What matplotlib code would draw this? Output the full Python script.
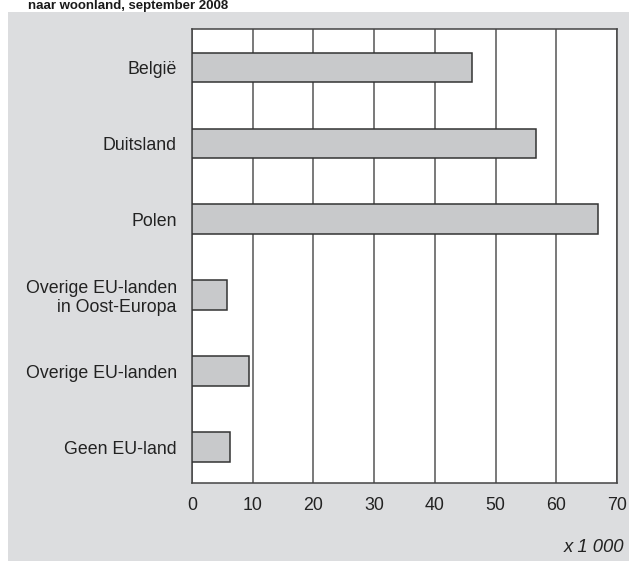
import matplotlib.pyplot as plt
from matplotlib.patches import Rectangle

plt.rcParams['font.family'] = ['Liberation Sans', 'DejaVu Sans']

landen = ['België', 'Duitsland', 'Polen', 'Overige EU-landen\nin Oost-Europa',
          'Overige EU-landen', 'Geen EU-land']
aantal = [46.1, 56.7, 66.9, 5.7, 9.4, 6.3]
xticks = [0, 10, 20, 30, 40, 50, 60, 70]

fig = plt.figure(figsize=(6.29, 5.61), dpi=100)
fig.patch.set_facecolor('white')

# grijs paneel achter de grafiek
fig.patches.append(Rectangle((8/629, 0), 1 - 8/629, 1 - 12/561,
                             transform=fig.transFigure, facecolor='#dcdddf',
                             edgecolor='none', zorder=-5))

fig.text(28/629, 1 - 8.5/561, 'naar woonland, september 2008', fontsize=9.5,
         fontweight='bold', color='#1a1a1a', va='baseline', ha='left')

ax = fig.add_axes([192/629, 1 - 483/561, (617 - 192)/629, (483 - 29)/561])
ax.set_zorder(2)
ax.set_facecolor('white')
ypos = list(range(len(landen)))
ax.barh(ypos, aantal, height=0.39, color='#c8c9cb', edgecolor='#333333',
        linewidth=1.1, zorder=3)
ax.set_xlim(0, 70)
ax.set_ylim(5.474, -0.507)
ax.set_xticks(xticks)
ax.set_xticklabels([str(t) for t in xticks])
ax.set_yticks(ypos)
ax.set_yticklabels(landen, ha='right', multialignment='right', linespacing=1.1)
ax.tick_params(axis='both', length=0, labelsize=12.8, colors='#222222', pad=11)
ax.tick_params(axis='x', pad=10)
ax.xaxis.grid(True, color='#555555', linewidth=1.1, zorder=1)
for s in ax.spines.values():
    s.set_color('#444444')
    s.set_linewidth(1.1)

fig.text(624/629, 1 - 547/561, 'x 1 000', fontsize=13.3, style='italic',
         color='#222222', ha='right', va='center')

fig.savefig('out.png', dpi=100)
